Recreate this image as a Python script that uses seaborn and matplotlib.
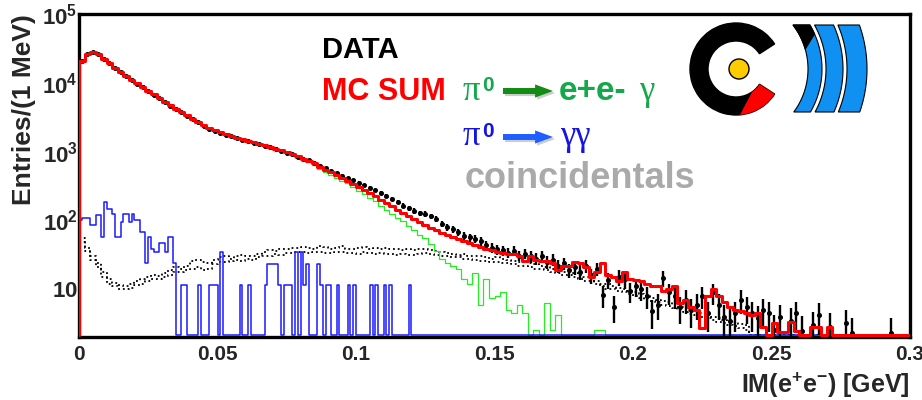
import numpy as np
import matplotlib
matplotlib.use("Agg")
import matplotlib.pyplot as plt
import seaborn as sns
from matplotlib.ticker import LogLocator, MultipleLocator, NullFormatter
from matplotlib.patches import Wedge, Circle, Polygon, FancyArrowPatch
import matplotlib.patheffects as pe

# entries per bin, 2 MeV bins from 0 to 0.3 GeV
mc_sum = [
    21000, 26500, 28000, 26500, 22000, 19500, 16500, 14500, 12600, 11000,
    9800, 8700, 7700, 6800, 6100, 5300, 4700, 4200, 3800, 3400,
    3000, 2700, 2400, 2200, 2050, 1900, 1800, 1700, 1600, 1520,
    1440, 1370, 1300, 1240, 1170, 1110, 1050, 990, 930, 860,
    790, 740, 680, 590, 540, 500, 455, 415, 375, 340,
    305, 275, 250, 225, 200, 178, 160, 143, 128, 115,
    104, 95, 87, 79, 72, 66, 61, 57, 53, 50,
    47, 44, 41, 39, 37, 35, 34, 33, 33, 30,
    26, 31, 27, 26, 26, 24, 19, 22, 22, 25,
    24, 21, 15, 18, 24, 16, 15, 13, 18, 14,
    13.5, 13, 12, 11, 11, 9.3, 10, 11, 6.3, 7,
    5.5, 5, 2.7, 8, 10, 8, 6.5, 5.5, 5, 4.8,
    4.6, 4.2, 4.5, 2.8, 0, 3.2, 2.4, 2.4, 3.3, 2.5,
    0, 0, 2.8, 2.8, 0, 2.8, 0, 0, 0, 0,
    0, 0, 0, 0, 0, 0, 0, 0, 0, 0,
]

pi0_dalitz = [
    20700, 26200, 27700, 26200, 21800, 19300, 16300, 14300, 12400, 10850,
    9650, 8580, 7600, 6700, 6010, 5220, 4630, 4140, 3740, 3340,
    2950, 2650, 2360, 2160, 2010, 1860, 1760, 1660, 1560, 1480,
    1400, 1330, 1260, 1200, 1130, 1070, 1010, 950, 890, 820,
    750, 700, 640, 555, 500, 460, 420, 380, 345, 310,
    272, 242, 215, 190, 165, 142, 125, 110, 98, 84,
    72, 62, 55, 46, 36, 28, 24, 22, 20, 14,
    12, 17, 6, 14, 7.4, 8, 9, 5, 4.5, 6,
    4.5, 0, 2.6, 0, 6.3, 2.6, 4.3, 0, 0, 0,
    0, 0, 0, 2.6, 2.6, 0, 0, 0, 0, 0,
] + [0] * 50

data_counts = [
    20600, 26300, 27600, 26300, 21900, 19400, 16400, 14400, 12500, 10900,
    9700, 8600, 7650, 6750, 6050, 5250, 4650, 4150, 3760, 3350,
    2950, 2660, 2370, 2170, 2010, 1860, 1760, 1670, 1570, 1490,
    1410, 1340, 1280, 1210, 1150, 1080, 1020, 960, 910, 850,
    790, 745, 690, 620, 570, 525, 485, 450, 415, 385,
    355, 325, 300, 275, 250, 225, 205, 185, 165, 150,
    138, 128, 125, 115, 105, 90, 80, 74, 68, 60,
    57, 54, 50, 44, 40, 38, 37, 34, 36, 31,
    33, 30, 28, 31, 25, 27, 22, 24, 19, 21,
    18, 22, 16, 20, 8.3, 13.7, 5.6, 15, 14, 9.4,
    11, 10, 8, 4.8, 6, 14.5, 9, 8, 5.5, 7,
    5, 6, 8, 4.5, 9, 6, 4, 3.5, 4.5, 7,
    5.5, 4.5, 3.8, 5, 4.5, 2.6, 4, 0, 3.5, 4.5,
    2.5, 0, 3, 4.2, 0, 2.8, 0, 0, 3.2, 2.3,
    0, 0, 0, 0, 0, 0, 2.3, 0, 0, 0,
]

# two coincidental (combinatorial) estimates, dotted
coinc_a = [
    55, 40, 30, 24, 18, 14, 12.5, 11.5, 11, 12,
    13, 14, 15, 16, 15.5, 17, 19, 21, 20, 22,
    26, 27, 25, 24, 27, 29, 30, 28, 31, 32,
    30, 31, 33, 35, 37, 36, 38, 39, 40, 40,
    41, 40, 39, 42, 41, 39, 40, 42, 39, 38,
    40, 41, 39, 40, 38, 40, 38, 39, 37, 38,
    37, 38, 39, 37, 36, 35, 34, 33, 32, 33,
    31, 30, 31, 29, 28, 29, 28, 27, 26, 25,
    26, 24, 23, 22, 21, 20, 19, 18, 18, 17,
    16, 15, 14, 13, 12, 12, 11, 10.5, 10, 9.5,
    9, 8.5, 8, 7.5, 7, 6.8, 6.5, 6, 5.6, 5.3,
    5, 4.8, 4.5, 4.3, 4, 3.8, 3.6, 3.4, 3.3, 3.1,
    3,
] + [0] * 29

coinc_b = [
    48, 36, 27, 21, 15, 12, 11, 10, 10, 10.5,
    11.5, 12, 13, 14, 14, 15, 16, 18, 18, 19,
    20, 21, 19, 20, 23, 25, 25, 26, 27, 26,
    28, 27, 29, 30, 31, 33, 32, 34, 34, 35,
    35, 34, 35, 35, 34, 34, 35, 35, 34, 34,
    33, 35, 34, 33, 34, 33, 33, 32, 33, 32,
    32, 33, 34, 33, 32, 31, 30, 29, 29, 28,
    28, 27, 26, 26, 25, 25, 24, 24, 23, 22,
    22, 21, 20, 20, 19, 18, 17, 16, 16, 15,
    14, 13, 13, 12, 11, 10, 10, 9.5, 9, 8.5,
    8, 7.5, 7, 6.8, 6.5, 6, 5.8, 5.4, 5, 4.7,
    4.4, 4.2, 4, 3.8, 3.6, 3.4, 3.2, 3, 2.9, 2.7,
    2.6,
] + [0] * 29

# pi0 -> gamma gamma, 1 MeV bins (first 120 MeV, zero beyond)
pi0_gg = [
    100, 107, 107, 107, 85, 85, 119, 119, 58, 187,
    149, 149, 126, 58, 58, 95, 126, 126, 95, 126,
    100, 100, 69, 69, 24, 58, 39, 35, 35, 47,
    47, 35, 58, 58, 24, 0, 0, 11.7, 11.7, 0,
    0, 0, 0, 11.7, 0, 0, 0, 11.7, 11.7, 11.7,
    0, 35, 0, 0, 0, 0, 0, 0, 11.7, 0,
    0, 11.7, 0, 0, 0, 0, 0, 11.7, 23.4, 23.4,
    23.4, 23.4, 11.7, 0, 11.7, 11.7, 11.7, 0, 35, 0,
    35, 11.7, 23.4, 0, 0, 0, 23.4, 11.7, 0, 11.7,
    11.7, 0, 0, 11.7, 0, 0, 0, 11.7, 0, 11.7,
    0, 0, 0, 0, 0, 11.7, 0, 11.7, 0, 0,
    11.7, 0, 11.7, 0, 0, 0, 0, 0, 0, 11.7,
] + [0] * 180

x_ticks = [0, 0.05, 0.1, 0.15, 0.2, 0.25, 0.3]
x_ticklabels = ['0', '0.05', '0.1', '0.15', '0.2', '0.25', '0.3']
y_ticks = [10, 100, 1000, 10000, 100000]
y_ticklabels = [r'$\mathbf{10}\;\;$', r'$\mathbf{10^{2}}$', r'$\mathbf{10^{3}}$',
                r'$\mathbf{10^{4}}$', r'$\mathbf{10^{5}}$']

sns.set_style("white")
plt.rcParams['font.family'] = ['Liberation Sans', 'DejaVu Sans']
plt.rcParams['mathtext.fontset'] = 'custom'
plt.rcParams['mathtext.rm'] = 'Liberation Sans'
plt.rcParams['mathtext.bf'] = 'Liberation Sans:bold'
plt.rcParams['mathtext.it'] = 'Liberation Sans:italic'

W, H = 922, 400
fig = plt.figure(figsize=(W / 100, H / 100), dpi=100)
ax = fig.add_axes([79 / W, 1 - 336.7 / H, (910 - 79) / W, (336.7 - 14) / H])

y_min, y_max = 2.05, 1e5
y_floor = 2.15  # empty bins are drawn on the bottom edge, like ROOT

edges = np.linspace(0, 0.3, len(mc_sum) + 1)
centers = 0.5 * (edges[:-1] + edges[1:])
fine_edges = np.linspace(0, 0.3, len(pi0_gg) + 1)
fine_centers = 0.5 * (fine_edges[:-1] + fine_edges[1:])


def draw_hist(values, e, c, **kw):
    v = np.maximum(np.asarray(values, float), y_floor)
    sns.histplot(x=c, weights=v, bins=list(e), element='step', fill=False, ax=ax, **kw)


draw_hist(coinc_a, edges, centers, color='black', linewidth=1.3, linestyle=':', zorder=1)
draw_hist(coinc_b, edges, centers, color='black', linewidth=1.3, linestyle=':', zorder=1)
draw_hist(pi0_dalitz, edges, centers, color='#22ee22', linewidth=0.9, zorder=2)
draw_hist(pi0_gg, fine_edges, fine_centers, color='#1a1aff', linewidth=1.1, zorder=3)

# data points with poisson errors
d = np.asarray(data_counts, float)
m = d > 0
err = np.sqrt(d[m])
lo = np.minimum(err, d[m] - y_floor * 0.99)
ax.errorbar(centers[m], d[m], yerr=[lo, err], fmt='o', ms=2.6, mfc='black', mec='black',
            ecolor='black', elinewidth=1.7, capsize=0, zorder=4)

draw_hist(mc_sum, edges, centers, color='red', linewidth=2.2, zorder=5)
ax.plot([edges[0], edges[0]], [y_floor, mc_sum[0]], color='red', lw=2.2, zorder=5)

ax.set_yscale('log')
ax.set_xlim(0, 0.3)
ax.set_ylim(y_min, y_max)

ax.set_xticks(x_ticks, x_ticklabels, fontweight='bold')
ax.xaxis.set_minor_locator(MultipleLocator(0.01))
ax.set_yticks(y_ticks, y_ticklabels)
ax.yaxis.set_minor_locator(LogLocator(base=10, subs=range(2, 10)))
ax.yaxis.set_minor_formatter(NullFormatter())

ax.tick_params(which='both', direction='in', top=False, right=False, color='black')
ax.tick_params(axis='y', which='major', length=14.4, width=1, pad=1, labelsize=16)
ax.tick_params(axis='y', which='minor', length=7.2, width=1)
ax.tick_params(axis='x', which='major', length=6, width=1, pad=6, labelsize=15)
ax.tick_params(axis='x', which='minor', length=3.5, width=1)
for s in ax.spines.values():
    s.set_linewidth(2.4)
    s.set_color('black')

ax.set_xlabel(r'$\mathbf{IM(e^{+}e^{-})\ [GeV]}$', loc='right', fontsize=18, labelpad=5)
ax.set_ylabel('Entries/(1 MeV)', loc='top', fontsize=19, fontweight='bold')
ax.yaxis.set_label_coords(-0.052, 1.0)

# overlay in pixel coordinates for the legend text and logo
ov = fig.add_axes([0, 0, 1, 1], zorder=10)
ov.set_xlim(0, W)
ov.set_ylim(H, 0)
ov.axis('off')
ov.patch.set_alpha(0)

green_txt = '#14a84a'
blue_txt = '#1414e6'
ov.text(322, 58, 'DATA', fontsize=21, fontweight='bold', color='black', va='baseline')
ov.text(322, 100, 'MC SUM', fontsize=22, fontweight='bold', color='red', va='baseline')

ov.text(463, 100, 'π', fontsize=25, family='Liberation Serif', color=green_txt, va='baseline')
ov.text(482, 91, '0', fontsize=15, fontweight='bold', color=green_txt, va='baseline')
ov.text(559, 100, 'e+e-', fontsize=24, fontweight='bold', color=green_txt, va='baseline')
ov.text(639, 100, 'γ', fontsize=25, family='Liberation Serif', color=green_txt, va='baseline')

ov.text(463, 145, 'π', fontsize=25, family='Liberation Serif', color=blue_txt, va='baseline')
ov.text(482, 137, '0', fontsize=15, fontweight='bold', color=blue_txt, va='baseline')
ov.text(560, 145, 'γγ', fontsize=25, family='Liberation Serif', color=blue_txt, va='baseline')

ov.text(465, 188, 'coincidentals', fontsize=26, fontweight='bold', color='#aaaaaa', va='baseline')

shadow = [pe.SimplePatchShadow(offset=(1.5, -1.5), shadow_rgbFace='gray', alpha=0.4), pe.Normal()]
for y_arrow, col in [(91, '#128c12'), (137, '#1f5fff')]:
    arr = FancyArrowPatch((503, y_arrow), (553, y_arrow),
                          arrowstyle='simple,head_length=3.0,head_width=2.2,tail_width=1.0',
                          mutation_scale=4.3, color=col, lw=0, shrinkA=0, shrinkB=0,
                          path_effects=shadow)
    ov.add_patch(arr)

# HADES logo
cx, cy = 736, 69
ov.add_patch(Wedge((cx, cy), 46, 33, 327, width=18, facecolor='black', edgecolor='black'))
t_out = np.radians(np.linspace(85, 33, 30))
t_in = np.radians(np.linspace(33, 55, 20))
red_pts = np.vstack([np.c_[cx + 46 * np.cos(t_out), cy + 46 * np.sin(t_out)],
                     np.c_[cx + 28 * np.cos(t_in), cy + 28 * np.sin(t_in)]])
ov.add_patch(Polygon(red_pts, closed=True, facecolor='red', edgecolor='none'))
ov.add_patch(Circle((739, 69), 10, facecolor='#ffcc00', edgecolor='black', lw=1))

top, bot = 25, 112


def arc(r, a0, a1, n=40):
    t = np.linspace(a0, a1, n)
    return np.c_[cx + r * np.cos(t), cy + r * np.sin(t)]


def band(r_in, r_out):
    return np.vstack([arc(r_out, np.arcsin((top - cy) / r_out), np.arcsin((bot - cy) / r_out)),
                      arc(r_in, np.arcsin((bot - cy) / r_in), np.arcsin((top - cy) / r_in))])


for r_in, r_out in [(72, 86), (90, 107), (111, 131)]:
    ov.add_patch(Polygon(band(r_in, r_out), closed=True, facecolor='#1090f0',
                         edgecolor='black', lw=0.8))

# black top of the first band
cap = np.vstack([arc(86, np.arcsin((top - cy) / 86), np.radians(-24), 20),
                 arc(72, np.radians(-16), np.arcsin((top - cy) / 72), 20)])
ov.add_patch(Polygon(cap, closed=True, facecolor='black', edgecolor='black', lw=0.8))

fig.savefig('out.png', dpi=100)
